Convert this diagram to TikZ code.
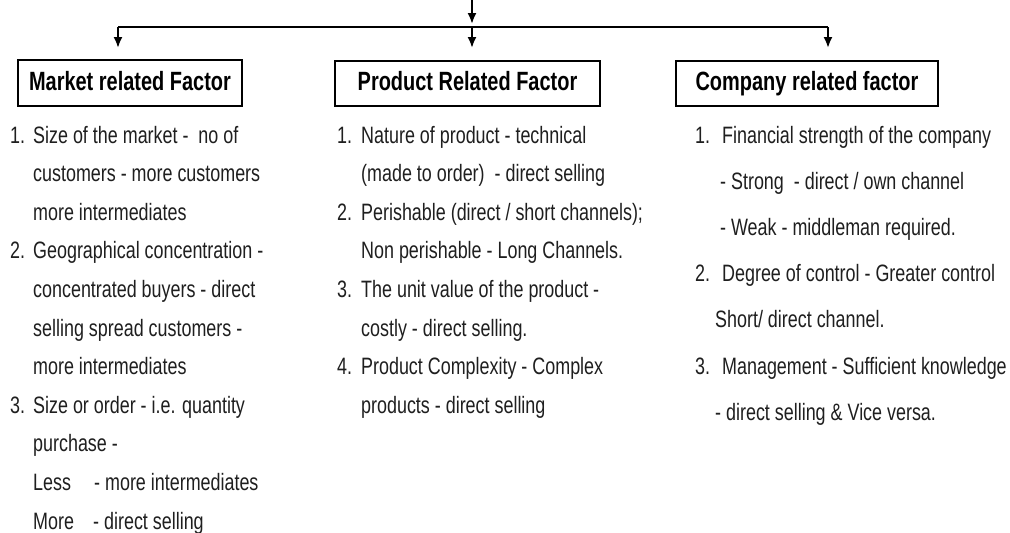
\documentclass[tikz,border=0pt]{standalone}
\usepackage{fontspec}
\setmainfont{Liberation Sans}[FakeStretch=0.756]
\usetikzlibrary{arrows.meta}
\begin{document}
\begin{tikzpicture}[x=1pt,y=-1pt,
  txt/.style={anchor=base west,inner sep=0pt,text=black!88,font=\fontsize{23.7}{28}\selectfont},
  hbox/.style={draw=black,line width=2.3pt,inner sep=0pt,text height=19pt,text depth=5pt,font=\bfseries\fontsize{26.4}{30}\selectfont},
  conn/.style={line width=2pt,black},
  arr/.style={conn,-{Latex[length=11pt,width=9pt]}}]
\useasboundingbox[fill=white] (0,0) rectangle (1010,533);
% connectors
\coordinate (top) at (472,0);
\coordinate (topend) at (472,24);
\coordinate (bl) at (118,27);
\coordinate (bm) at (472,27);
\coordinate (br) at (828,27);
\coordinate (al) at (118,48);
\coordinate (am) at (472,48);
\coordinate (ar) at (828,48);
\draw[arr] (top) -- (topend);
\draw[conn] (bl) -- (br);
\draw[arr] (bl) -- (al);
\draw[arr] (bm) -- (am);
\draw[arr] (br) -- (ar);
% boxes
\node[hbox,minimum width=224pt,minimum height=46pt] (mkt) at (130,83) {Market related Factor};
\node[hbox,minimum width=265pt,minimum height=45pt] (prd) at (467.5,83.5) {Product Related Factor};
\node[hbox,minimum width=262pt,minimum height=45pt] (cmp) at (807,83.5) {Company related factor};
% left column
\node[txt] (l1) at (10,143) {\makebox[23pt][l]{1.}Size of the market -\ \ no of};
\node[txt] (l2) at (33,181.6) {customers - more customers};
\node[txt] (l3) at (33,220.2) {more intermediates};
\node[txt] (l4) at (10,258.8) {\makebox[23pt][l]{2.}Geographical concentration -};
\node[txt] (l5) at (33,297.4) {concentrated buyers - direct};
\node[txt] (l6) at (33,336) {selling spread customers -};
\node[txt] (l7) at (33,374.6) {more intermediates};
\node[txt] (l8) at (10,413.2) {\makebox[23pt][l]{3.}Size or order - i.e. quantity};
\node[txt] (l9) at (33,451.8) {purchase -};
\node[txt] (l10) at (33,490.4) {\makebox[61pt][l]{Less}- more intermediates};
\node[txt] (l11) at (33,529) {\makebox[60pt][l]{More}- direct selling};
% middle column
\node[txt] (m1) at (337,143) {\makebox[24pt][l]{1.}Nature of product - technical};
\node[txt] (m2) at (361,181.6) {(made to order)\ \ - direct selling};
\node[txt] (m3) at (337,220.2) {\makebox[24pt][l]{2.}Perishable (direct / short channels);};
\node[txt] (m4) at (361,258.8) {Non perishable - Long Channels.};
\node[txt] (m5) at (337,297.4) {\makebox[24pt][l]{3.}The unit value of the product -};
\node[txt] (m6) at (361,336) {costly - direct selling.};
\node[txt] (m7) at (337,374.6) {\makebox[24pt][l]{4.}Product Complexity - Complex};
\node[txt] (m8) at (361,413.2) {products - direct selling};
% right column
\node[txt] (r1) at (695,143) {\makebox[27pt][l]{1.}Financial strength of the company};
\node[txt] (r2) at (720,189.2) {- Strong\ \ - direct / own channel};
\node[txt] (r3) at (720,235.4) {- Weak - middleman required.};
\node[txt] (r4) at (695,281.6) {\makebox[27pt][l]{2.}Degree of control - Greater control};
\node[txt] (r5) at (715,327.8) {Short/ direct channel.};
\node[txt] (r6) at (695,374) {\makebox[27pt][l]{3.}Management - Sufficient knowledge};
\node[txt] (r7) at (715,420.2) {- direct selling \& Vice versa.};
\end{tikzpicture}
\end{document}
